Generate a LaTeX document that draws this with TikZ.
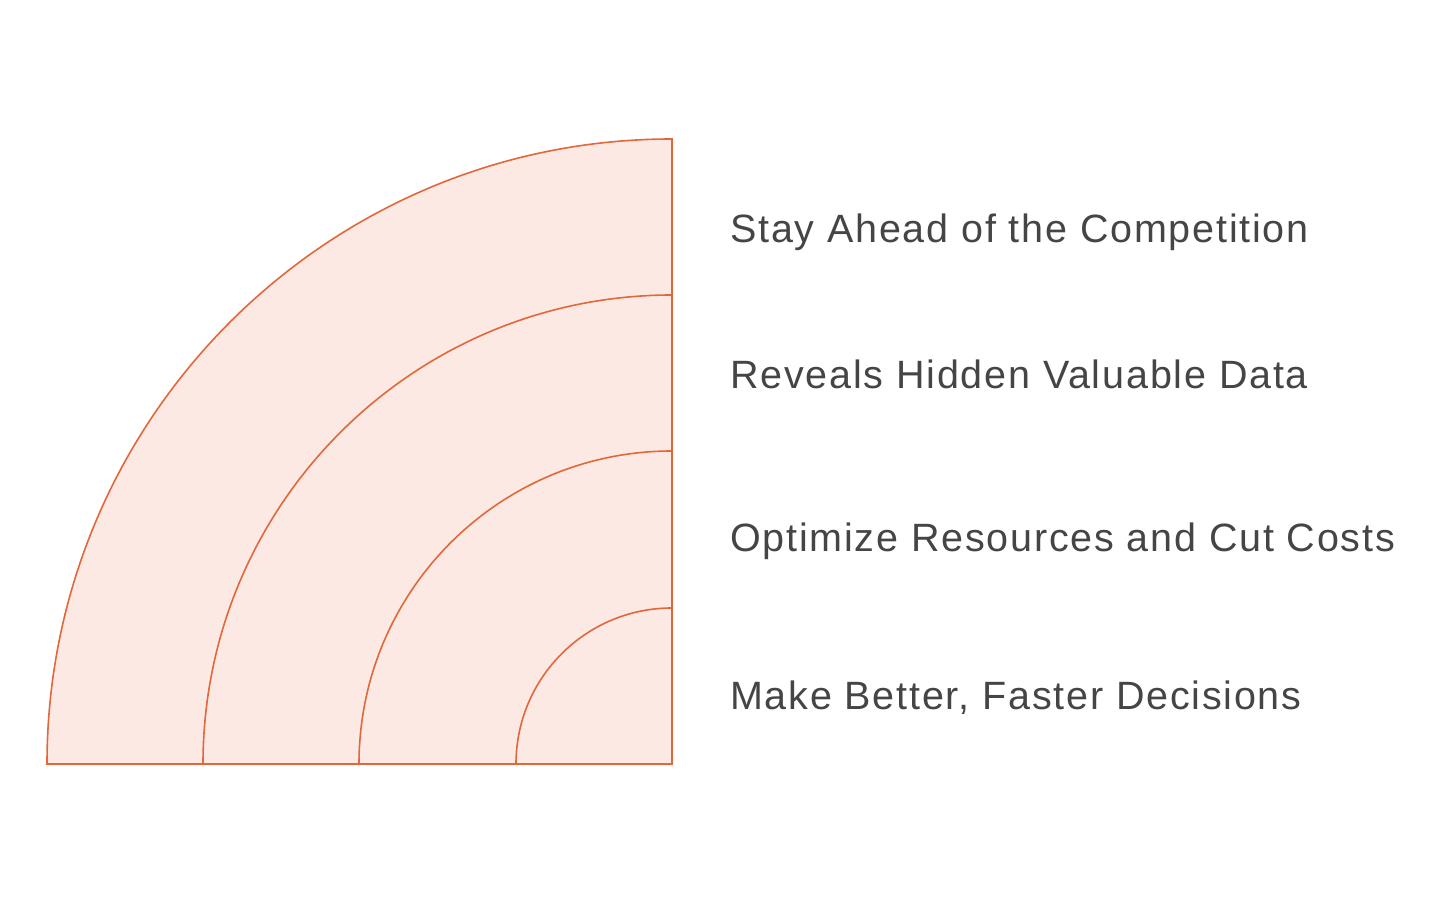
\documentclass[tikz,border=0pt]{standalone}
\usepackage{fontspec}
\setmainfont{Liberation Sans}[LetterSpace=4.5]
\definecolor{ringfill}{HTML}{FDE9E3}
\definecolor{ringline}{HTML}{E2673B}
\definecolor{labeltext}{HTML}{454545}
\begin{document}
\begin{tikzpicture}[x=1pt,y=1pt,
  ring/.style={fill=ringfill,draw=ringline,line width=1.6pt,line join=miter},
  lbl/.style={anchor=base west,inner sep=0pt,text=labeltext,font=\fontsize{39.5}{46}\selectfont}]
\useasboundingbox (0,0) rectangle (1440,900);
\coordinate (c) at (672,136);
\foreach \r in {625,469,313,156}{
  \draw[ring] (c) -- ++(-\r,0) arc[start angle=180,end angle=90,radius=\r] -- cycle;
}
\node[lbl] (t1) at (730,657) {Stay Ahead of the Competition};
\node[lbl] (t2) at (730,511) {Reveals Hidden Valuable Data};
\node[lbl] (t3) at (730,348) {Optimize Resources and Cut Costs};
\node[lbl] (t4) at (730,190) {Make Better, Faster Decisions};
\end{tikzpicture}
\end{document}
